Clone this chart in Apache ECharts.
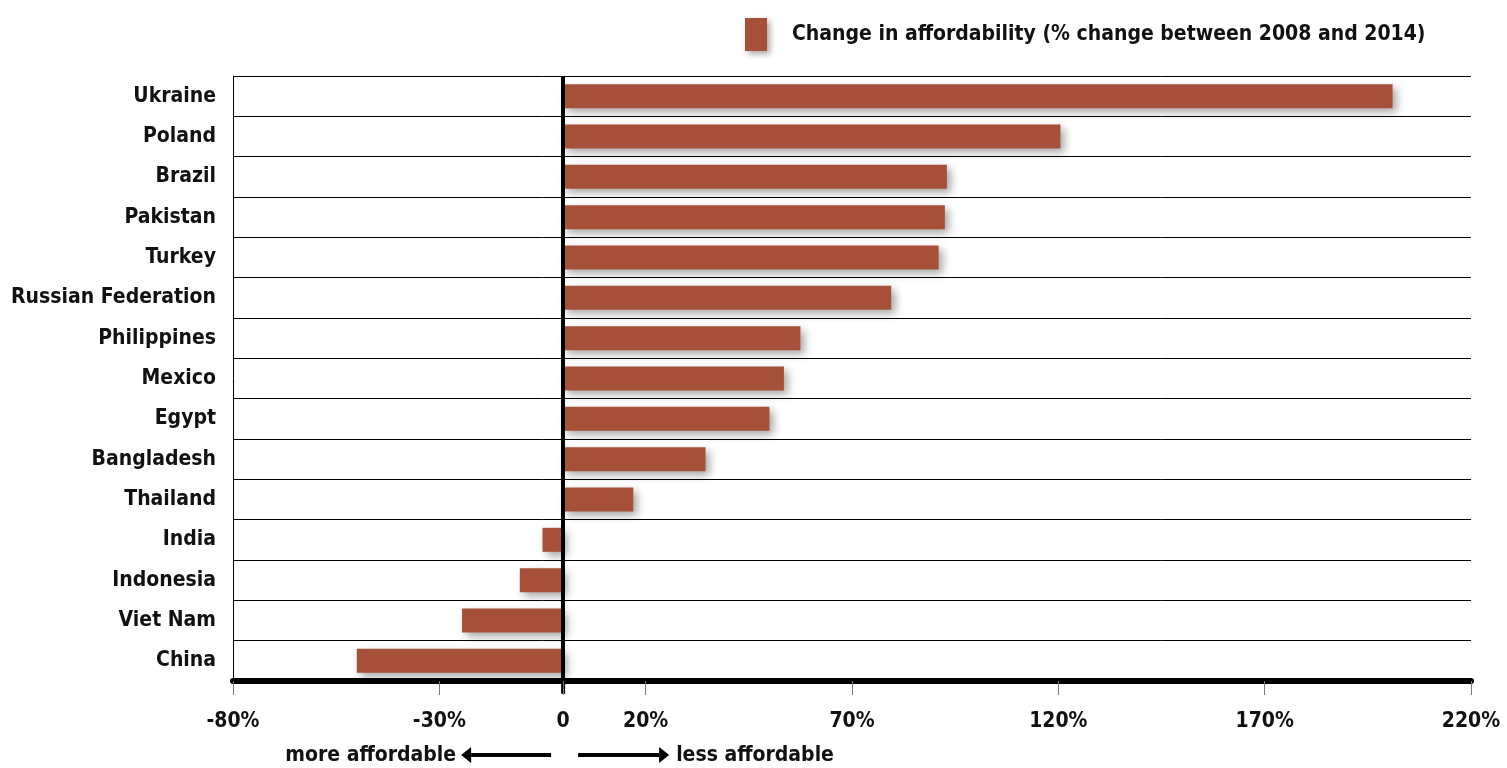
<!DOCTYPE html>
<html>
<head>
<meta charset="utf-8">
<script src="https://cdn.jsdelivr.net/npm/echarts@6/dist/echarts.min.js"></script>
<style>html,body{margin:0;padding:0;background:#fff}#c{width:1507px;height:768px}</style>
</head>
<body>
<div id="c"></div>
<script>
const categories = ['Ukraine','Poland','Brazil','Pakistan','Turkey','Russian Federation','Philippines','Mexico','Egypt','Bangladesh','Thailand','India','Indonesia','Viet Nam','China'];
const changeValues = [201, 120.5, 93, 92.5, 91, 79.5, 57.5, 53.5, 50, 34.5, 17, -5, -10.5, -24.5, -50];
const tickValues = [-80, -30, 0, 20, 70, 120, 170, 220];
const seriesName = 'Change in affordability (% change between 2008 and 2014)';

const FONT = '"Liberation Sans Narrow", "DejaVu Sans Condensed", "Open Sans", sans-serif';
const chart = echarts.init(document.getElementById('c'));
chart.setOption({
  animation: false,
  backgroundColor: '#fff',
  grid: { left: 233, right: 36, top: 76, bottom: 87, containLabel: false },
  legend: {
    left: 740, top: 13,
    itemWidth: 22, itemHeight: 33,
    icon: 'rect',
    data: [{ name: seriesName, itemStyle: { color: '#A65039', shadowColor: 'rgba(0,0,0,0.35)', shadowBlur: 6, shadowOffsetX: 3, shadowOffsetY: 3 } }],
    textStyle: { fontFamily: FONT, fontWeight: 'bold', fontSize: 21, color: '#111', padding: [8, 0, 0, 20] }
  },
  xAxis: {
    type: 'value', min: -80, max: 220, interval: 10,
    axisLine: { show: true, onZero: false, lineStyle: { color: '#000', width: 6 } },
    axisTick: { show: true, customValues: tickValues, length: 14, lineStyle: { color: '#777', width: 1 } },
    axisLabel: {
      customValues: tickValues, margin: 30,
      fontFamily: FONT, fontWeight: 'bold', fontSize: 21, color: '#111',
      formatter: v => v === 0 ? '0' : v + '%'
    },
    splitLine: { show: false }
  },
  yAxis: {
    type: 'category', data: categories, inverse: true,
    axisLine: { show: true, onZero: false, lineStyle: { color: '#000', width: 1 } },
    axisTick: { show: false },
    axisLabel: { fontFamily: FONT, fontWeight: 'bold', fontSize: 21, color: '#111', margin: 17, padding: [10, 0, 0, 0] },
    splitLine: { show: true, lineStyle: { color: '#000', width: 1 } }
  },
  series: [{
    name: seriesName, type: 'bar', data: changeValues, barWidth: 24,
    itemStyle: { color: '#A65039', shadowColor: 'rgba(0,0,0,0.35)', shadowBlur: 8, shadowOffsetX: 4, shadowOffsetY: 4 },
    markLine: {
      silent: true, symbol: 'none', label: { show: false },
      lineStyle: { color: '#000', width: 4, type: 'solid' },
      data: [{ xAxis: 0 }]
    }
  }]
});

const x0 = chart.convertToPixel({ xAxisIndex: 0 }, 0);
const yb = chart.convertToPixel({ yAxisIndex: 0 }, categories[categories.length - 1]) + 20;
chart.setOption({
  graphic: [
    { type: 'line', shape: { x1: x0, y1: yb, x2: x0, y2: yb + 13 }, style: { stroke: '#000', lineWidth: 4 } },
    { type: 'text', style: { x: x0 - 107, y: 756, text: 'more affordable', textAlign: 'right', textVerticalAlign: 'middle', font: 'bold 21px ' + FONT, fill: '#111' } },
    { type: 'line', shape: { x1: x0 - 12, y1: 755, x2: x0 - 92, y2: 755 }, style: { stroke: '#000', lineWidth: 4 } },
    { type: 'polygon', shape: { points: [[x0 - 102, 755], [x0 - 92, 747], [x0 - 92, 763]] }, style: { fill: '#000' } },
    { type: 'line', shape: { x1: x0 + 15, y1: 755, x2: x0 + 96, y2: 755 }, style: { stroke: '#000', lineWidth: 4 } },
    { type: 'polygon', shape: { points: [[x0 + 106, 755], [x0 + 96, 747], [x0 + 96, 763]] }, style: { fill: '#000' } },
    { type: 'text', style: { x: x0 + 113, y: 756, text: 'less affordable', textAlign: 'left', textVerticalAlign: 'middle', font: 'bold 21px ' + FONT, fill: '#111' } }
  ]
});
</script>
</body>
</html>
